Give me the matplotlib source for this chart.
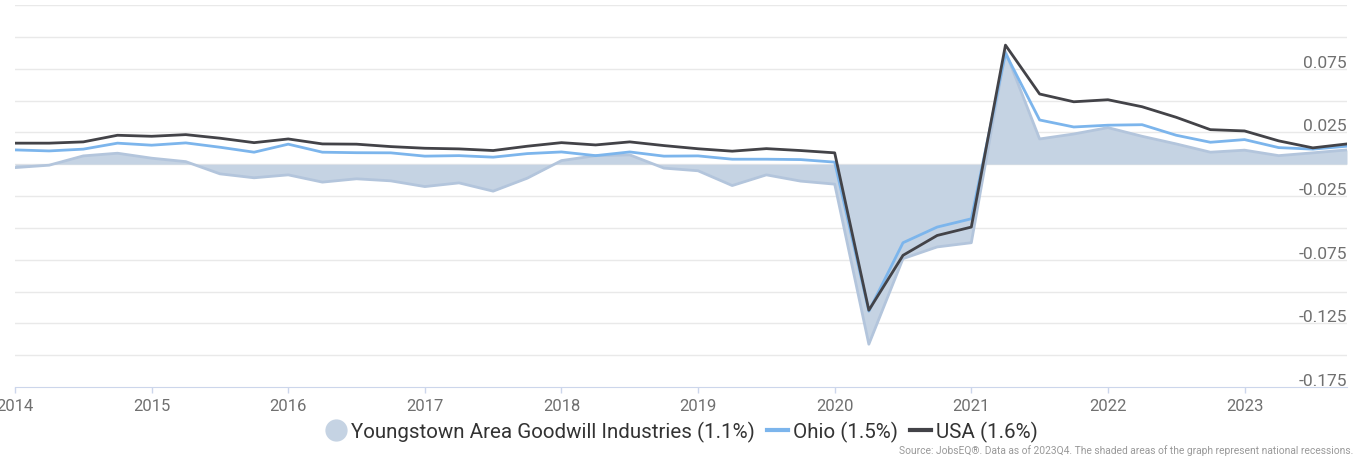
import matplotlib.pyplot as plt
from matplotlib.lines import Line2D
import numpy as np

plt.rcParams['font.family'] = ['Roboto', 'DejaVu Sans']

quarters = [f"{y}Q{q}" for y in range(2014, 2024) for q in range(1, 5)]

youngstown = [-0.0027, -0.0008, 0.0065, 0.0086, 0.0047, 0.0020, -0.0076, -0.0107,
              -0.0084, -0.0141, -0.0115, -0.0131, -0.0176, -0.0147, -0.0212, -0.0110,
              0.0028, 0.0067, 0.0073, -0.0031, -0.0052, -0.0168, -0.0084, -0.0133,
              -0.0157, -0.1414, -0.0742, -0.0650, -0.0617, 0.0885, 0.0198, 0.0237,
              0.0287, 0.0219, 0.0159, 0.0094, 0.0110, 0.0067, 0.0089, 0.0112]
ohio = [0.0112, 0.0104, 0.0118, 0.0165, 0.0149, 0.0167, 0.0133, 0.0094,
        0.0157, 0.0094, 0.0090, 0.0089, 0.0063, 0.0067, 0.0055, 0.0083,
        0.0096, 0.0067, 0.0096, 0.0063, 0.0065, 0.0039, 0.0039, 0.0036,
        0.0016, -0.1155, -0.0617, -0.0494, -0.0429, 0.0870, 0.0347, 0.0292,
        0.0306, 0.0310, 0.0227, 0.0172, 0.0193, 0.0130, 0.0118, 0.0141]
usa = [0.0165, 0.0165, 0.0175, 0.0227, 0.0219, 0.0232, 0.0204, 0.0169,
       0.0198, 0.0159, 0.0157, 0.0138, 0.0125, 0.0120, 0.0107, 0.0141,
       0.0169, 0.0151, 0.0175, 0.0146, 0.0121, 0.0102, 0.0122, 0.0107,
       0.0089, -0.1147, -0.0716, -0.0560, -0.0494, 0.0935, 0.0551, 0.0490,
       0.0506, 0.0451, 0.0368, 0.0271, 0.0261, 0.0183, 0.0128, 0.0159]

year_ticks = list(range(2014, 2024))
y_labels = [0.075, 0.025, -0.025, -0.075, -0.125, -0.175]

x = np.array([int(s[:4]) + (int(s[-1]) - 1) / 4 for s in quarters])

fig = plt.figure(figsize=(13.63, 4.6), dpi=100)
ax = fig.add_axes([15 / 1363, 72 / 460, 1332 / 1363, 382 / 460])

fill_c = '#c5d3e3'
ax.fill_between(x, 0, youngstown, color=fill_c, lw=0, zorder=2)
ax.plot(x, youngstown, color='#b3c5dc', lw=2, zorder=3)
ax.plot(x, ohio, color='#7cb5ec', lw=2, zorder=4)
ax.plot(x, usa, color='#434348', lw=2, zorder=5)

ax.set_xlim(2014, 2023.75)
ax.set_ylim(-0.175, 0.125)

for g in np.arange(-0.15, 0.126, 0.025):
    ax.axhline(g, color='#e9e9e9', lw=1, zorder=1)

ax.set_yticks([])
ax.set_xticks(year_ticks)
ax.set_xticklabels([str(y) for y in year_ticks])
ax.tick_params(axis='x', colors='#ccd6eb', length=4, width=1, labelsize=12, pad=4)
for lab in ax.get_xticklabels():
    lab.set_color('#707070')

for s in ['top', 'right', 'left']:
    ax.spines[s].set_visible(False)
ax.spines['bottom'].set_color('#ccd6eb')

for v in y_labels:
    ax.annotate(f"{v:.3f}", xy=(1.0, v), xycoords=ax.get_yaxis_transform(),
                xytext=(0, 2), textcoords='offset pixels',
                ha='right', va='baseline', fontsize=12.5, color='#707070', zorder=6)

handles = [
    Line2D([], [], marker='o', ls='none', markersize=15, markerfacecolor=fill_c, markeredgecolor=fill_c),
    Line2D([], [], color='#7cb5ec', lw=3),
    Line2D([], [], color='#434348', lw=3),
]
labels = ['Youngstown Area Goodwill Industries (1.1%)', 'Ohio (1.5%)', 'USA (1.6%)']
fig.legend(handles, labels, loc='center', bbox_to_anchor=(0.5, 28 / 460), ncol=3,
           frameon=False, fontsize=14.8, handlelength=1.0, handletextpad=0.25,
           columnspacing=0.6, labelcolor='#333333')

fig.text(1353 / 1363, 9 / 460,
         'Source: JobsEQ®. Data as of 2023Q4. The shaded areas of the graph represent national recessions.',
         ha='right', va='center', fontsize=7.4, color='#999999')

fig.savefig('out.png', dpi=100)
